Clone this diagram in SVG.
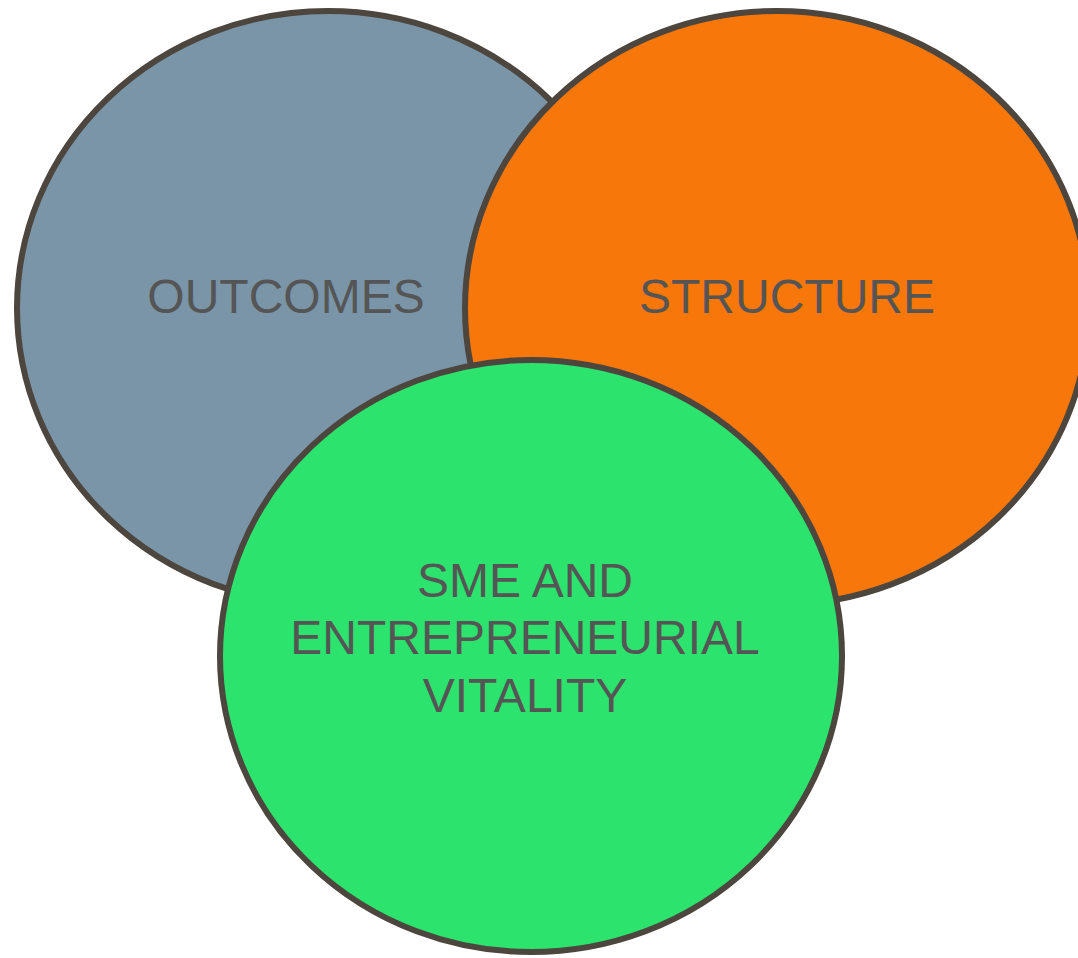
<svg xmlns="http://www.w3.org/2000/svg" width="1078" height="958" viewBox="0 0 1078 958">
<style>
.c{stroke:#4D463E;stroke-width:6}
.t{font-family:"Liberation Sans",Arial,sans-serif;font-size:48px;fill:#555555;text-anchor:middle}
</style>
<rect width="1078" height="958" fill="#FFFFFF"/>
<g id="outcomes">
<ellipse class="c" cx="328" cy="308" rx="311" ry="297" fill="#7A95A8"/>
<text class="t" x="286" y="313">OUTCOMES</text>
</g>
<g id="structure">
<ellipse class="c" cx="777" cy="308" rx="312" ry="297" fill="#F8770B"/>
<text class="t" x="787" y="313">STRUCTURE</text>
</g>
<g id="sme">
<ellipse class="c" cx="531" cy="656" rx="311" ry="296" fill="#2CE36E"/>
<text class="t" x="525" y="597">SME AND</text>
<text class="t" x="525" y="654">ENTREPRENEURIAL</text>
<text class="t" x="525" y="712">VITALITY</text>
</g>
<g id="connectors"/>
</svg>
